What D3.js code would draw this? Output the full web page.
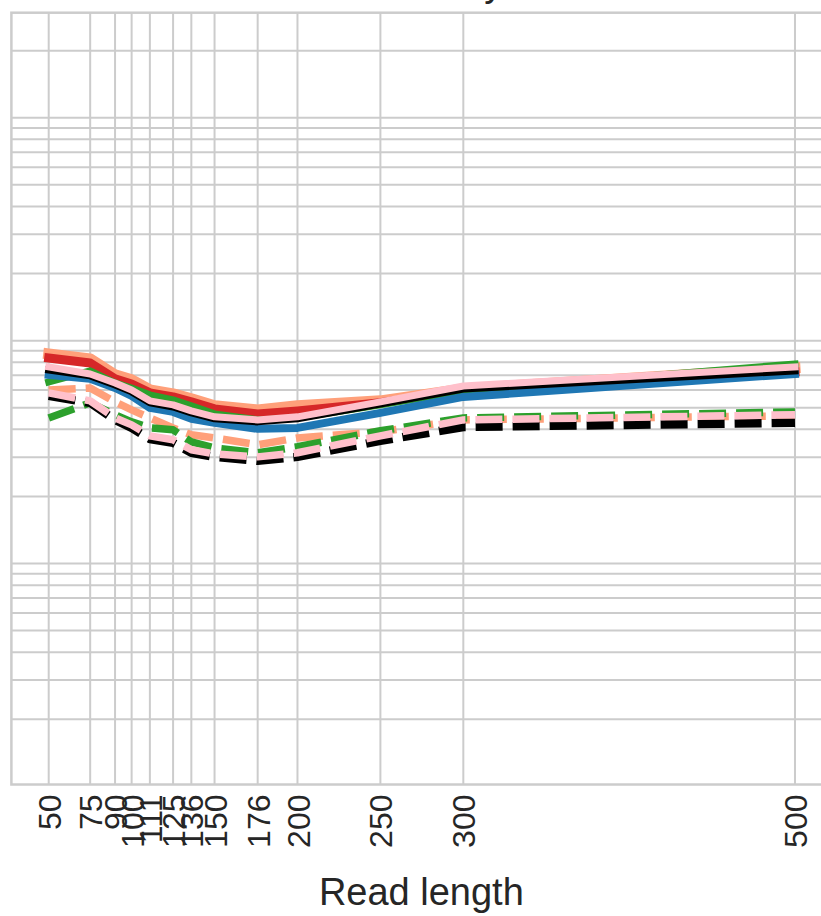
<!DOCTYPE html>
<html>
<head>
<meta charset="utf-8">
<script src="https://cdn.jsdelivr.net/npm/d3@7"></script>
<style>
  html, body { margin: 0; padding: 0; background: #ffffff; }
  svg { display: block; }
  text { font-family: "Liberation Sans", Arial, sans-serif; fill: #262626; }
</style>
</head>
<body>
<svg id="chart" width="821" height="916"></svg>
<script>
// ---------------- data ----------------
const readLengths = [50, 75, 90, 100, 111, 125, 136, 150, 176, 200, 250, 300, 500];
const xTickLabels = ["50", "75", "90", "100", "111", "125", "136", "150", "176", "200", "250", "300", "500"];

const salmonSolid = [0.872, 0.828, 0.702, 0.667, 0.601, 0.577, 0.548, 0.510, 0.489, 0.510, 0.537, 0.607, 0.755];
const redSolid    = [0.836, 0.794, 0.674, 0.639, 0.583, 0.559, 0.531, 0.494, 0.469, 0.484, 0.526, 0.595, 0.724];
const greenSolid  = [0.653, 0.732, 0.646, 0.613, 0.571, 0.542, 0.510, 0.469, 0.441, 0.450, 0.515, 0.595, 0.786];
const blueSolid   = [0.702, 0.674, 0.613, 0.565, 0.499, 0.479, 0.446, 0.428, 0.402, 0.406, 0.474, 0.559, 0.709];
const blackSolid  = [0.739, 0.695, 0.633, 0.589, 0.526, 0.504, 0.474, 0.446, 0.432, 0.446, 0.520, 0.607, 0.732];
const pinkSolid   = [0.762, 0.709, 0.646, 0.601, 0.537, 0.515, 0.484, 0.455, 0.441, 0.455, 0.531, 0.626, 0.762];

const salmonDashed = [0.601, 0.613, 0.531, 0.489, 0.450, 0.406, 0.378, 0.366, 0.341, 0.366, 0.390, 0.441, 0.460];
const greenDashed  = [0.450, 0.526, 0.465, 0.432, 0.406, 0.398, 0.351, 0.330, 0.314, 0.334, 0.394, 0.450, 0.479];
const blackDashed  = [0.565, 0.526, 0.441, 0.406, 0.362, 0.348, 0.314, 0.301, 0.289, 0.301, 0.355, 0.410, 0.428];
const pinkDashed   = [0.583, 0.537, 0.450, 0.419, 0.374, 0.359, 0.324, 0.310, 0.301, 0.314, 0.374, 0.441, 0.465];

const titleText = "Accuracy";
const xLabelText = "Read length";

// ---------------- layout ----------------
const svg = d3.select("#chart");
svg.append("rect").attr("width", 821).attr("height", 916).attr("fill", "#ffffff");

const plotLeft = 11.4, plotRight = 832.3, plotTop = 12.7, plotBottom = 784.5;

const x = d3.scaleLinear().domain([27.5, 522.5]).range([plotLeft, plotRight]);
const y = d3.scaleLog().domain([0.0102, 29.6]).range([plotBottom, plotTop]);

const gridColor = "#cccccc";

// horizontal grid (major + minor on log axis)
const yTicks = [];
[0.01, 0.1, 1, 10].forEach(dec => {
  for (let m = 1; m <= 9; m++) {
    const v = dec * m;
    if (v > y.domain()[0] && v < y.domain()[1]) yTicks.push(v);
  }
});
svg.append("g")
  .selectAll("line").data(yTicks).join("line")
  .attr("x1", plotLeft).attr("x2", plotRight)
  .attr("y1", d => y(d)).attr("y2", d => y(d))
  .attr("stroke", gridColor).attr("stroke-width", 2);

// vertical grid
svg.append("g")
  .selectAll("line").data(readLengths).join("line")
  .attr("x1", d => x(d)).attr("x2", d => x(d))
  .attr("y1", plotTop).attr("y2", plotBottom)
  .attr("stroke", gridColor).attr("stroke-width", 2);

// spines
svg.append("rect")
  .attr("x", plotLeft).attr("y", plotTop)
  .attr("width", plotRight - plotLeft).attr("height", plotBottom - plotTop)
  .attr("fill", "none").attr("stroke", gridColor).attr("stroke-width", 2.5);

// x axis tick labels (rotated) via d3 axis
const xAxis = d3.axisBottom(x)
  .tickValues(readLengths)
  .tickFormat((d, i) => xTickLabels[i])
  .tickSize(0).tickPadding(0);
const gx = svg.append("g").attr("transform", `translate(0,${plotBottom})`).call(xAxis);
gx.select(".domain").remove();
gx.selectAll("text")
  .attr("transform", "translate(0,10) rotate(-90)")
  .attr("text-anchor", "end")
  .attr("x", 0).attr("y", 0).attr("dy", "0.36em")
  .style("font-size", "32px")
  .style("font-family", "'Liberation Sans', Arial, sans-serif")
  .attr("fill", "#262626");

// x label
svg.append("text")
  .attr("x", (x(50) + x(500)) / 2 - 0.5).attr("y", 905)
  .attr("text-anchor", "middle")
  .style("font-size", "38px")
  .text(xLabelText);

// title (mostly above the visible area, as in the reference)
svg.append("text")
  .attr("x", 425).attr("y", -4)
  .attr("text-anchor", "middle")
  .style("font-size", "38px")
  .text(titleText);

// ---------------- lines ----------------
const line = d3.line().x((d, i) => x(readLengths[i])).y(d => y(d));

const seriesList = [
  { values: salmonSolid, color: "#ffa07a", width: 11, dashed: false },
  { values: redSolid,    color: "#d62728", width: 9,  dashed: false },
  { values: greenSolid,  color: "#2ca02c", width: 7,  dashed: false },
  { values: blueSolid,   color: "#1f77b4", width: 8,  dashed: false },
  { values: blackSolid,  color: "#000000", width: 7,  dashed: false },
  { values: pinkSolid,   color: "#ffc0cb", width: 7,  dashed: false },
  { values: salmonDashed, color: "#ffa07a", width: 7.5, dashed: true },
  { values: greenDashed,  color: "#2ca02c", width: 7.5, dashed: true },
  { values: blackDashed,  color: "#000000", width: 8.5, dashed: true },
  { values: pinkDashed,   color: "#ffc0cb", width: 7.5, dashed: true }
];

const gLines = svg.append("g");
seriesList.forEach(s => {
  gLines.append("path")
    .attr("d", line(s.values))
    .attr("fill", "none")
    .attr("stroke", s.color)
    .attr("stroke-width", s.width)
    .attr("stroke-linejoin", "round")
    .attr("stroke-linecap", s.dashed ? "butt" : "square")
    .attr("stroke-dasharray", s.dashed ? "27,10" : null);
});
</script>
</body>
</html>
